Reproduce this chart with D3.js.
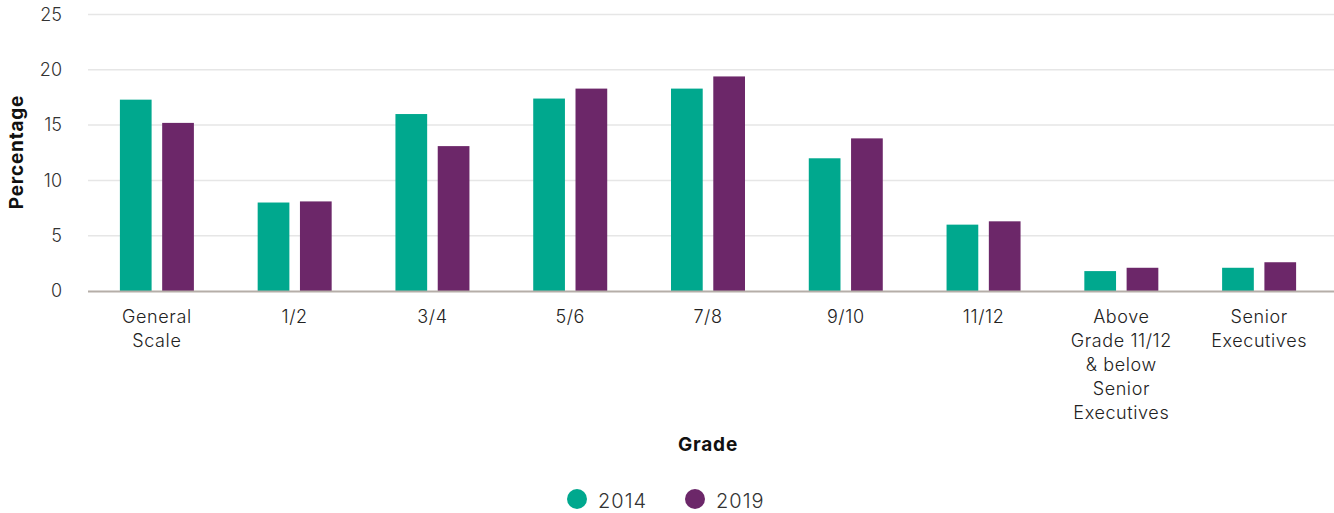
<!DOCTYPE html>
<html><head><meta charset="utf-8">
<script src="https://cdn.jsdelivr.net/npm/d3@7"></script>
<style>body{margin:0;background:#fff}svg{display:block}text{font-family:Inter,"Open Sans",sans-serif}</style>
</head><body>
<svg id="c" width="1334" height="513"></svg>
<script>
const categories = ["General Scale","1/2","3/4","5/6","7/8","9/10","11/12","Above Grade 11/12 & below Senior Executives","Senior Executives"];
const categoryLines = [["General","Scale"],["1/2"],["3/4"],["5/6"],["7/8"],["9/10"],["11/12"],["Above","Grade 11/12","& below","Senior","Executives"],["Senior","Executives"]];
const series = ["2014","2019"];
const values2014 = [17.3,8.0,16.0,17.4,18.3,12.0,6.0,1.8,2.1];
const values2019 = [15.2,8.1,13.1,18.3,19.4,13.8,6.3,2.1,2.6];
const yTicks = [0,5,10,15,20,25];
const colors = {"2014":"#00a88e","2019":"#6c2769"};

const svg = d3.select("#c");
const mLeft = 88, mRight = 1328, mTop = 14.5, mBottom = 291;
const x0 = d3.scaleBand().domain(categories).range([mLeft,mRight]).padding(0);
const x1 = d3.scaleBand().domain(series).range([x0.bandwidth()/2-37, x0.bandwidth()/2+37]).paddingInner(0.25);
const y = d3.scaleLinear().domain([0,25]).range([mBottom,mTop]);

// grid
svg.append("g").selectAll("line").data(yTicks.filter(d=>d>0)).join("line")
  .attr("x1",mLeft).attr("x2",1334).attr("y1",d=>y(d)).attr("y2",d=>y(d))
  .attr("stroke","#e6e6e6").attr("stroke-width",1.5);

// y labels
const yAxis = svg.append("g").attr("transform",`translate(${mLeft},0)`)
  .call(d3.axisLeft(y).tickValues(yTicks).tickSize(0).tickPadding(26));
yAxis.select(".domain").remove();
yAxis.selectAll("text").attr("font-size",18).attr("fill","#333").attr("font-family","Inter,sans-serif").attr("font-weight",300);

// bars
const data = categories.map((c,i)=>({c, vals:[{s:"2014",v:values2014[i]},{s:"2019",v:values2019[i]}]}));
const g = svg.append("g").selectAll("g").data(data).join("g").attr("transform",d=>`translate(${x0(d.c)},0)`);
g.selectAll("rect").data(d=>d.vals).join("rect")
  .attr("x",d=>x1(d.s)).attr("width",x1.bandwidth())
  .attr("y",d=>y(d.v)).attr("height",d=>y(0)-y(d.v))
  .attr("fill",d=>colors[d.s]);

// x axis line
svg.append("line").attr("x1",mLeft).attr("x2",1334).attr("y1",y(0)+0.5).attr("y2",y(0)+0.5)
  .attr("stroke","#b5aea8").attr("stroke-width",2);

// x labels
const xl = svg.append("g");
categories.forEach((c,i)=>{
  const cx = x0(c)+x0.bandwidth()/2;
  const t = xl.append("text").attr("x",cx).attr("y",322.5)
    .attr("text-anchor","middle").attr("font-size",18).attr("letter-spacing",0.6).attr("font-weight",300).attr("fill","#222");
  categoryLines[i].forEach((ln,j)=>t.append("tspan").attr("x",cx).attr("dy",j?24:0).text(ln));
});

// axis titles
svg.append("text").attr("x",(mLeft+mRight)/2).attr("y",451).attr("text-anchor","middle")
  .attr("font-size",19).attr("letter-spacing",0.8).attr("font-weight","bold").attr("fill","#111").text("Grade");
svg.append("text").attr("transform","translate(23,152) rotate(-90)").attr("text-anchor","middle")
  .attr("font-size",19).attr("letter-spacing",0.8).attr("font-weight","bold").attr("fill","#111").text("Percentage");

// legend
const legend = svg.append("g");
const lx = [577, 695];
series.forEach((s,i)=>{
  legend.append("circle").attr("cx",lx[i]).attr("cy",499).attr("r",10).attr("fill",colors[s]);
  legend.append("text").attr("x",lx[i]+21).attr("y",507.5).attr("font-size",20).attr("letter-spacing",1).attr("font-weight",300).attr("fill","#333").text(s);
});
</script>
</body></html>
